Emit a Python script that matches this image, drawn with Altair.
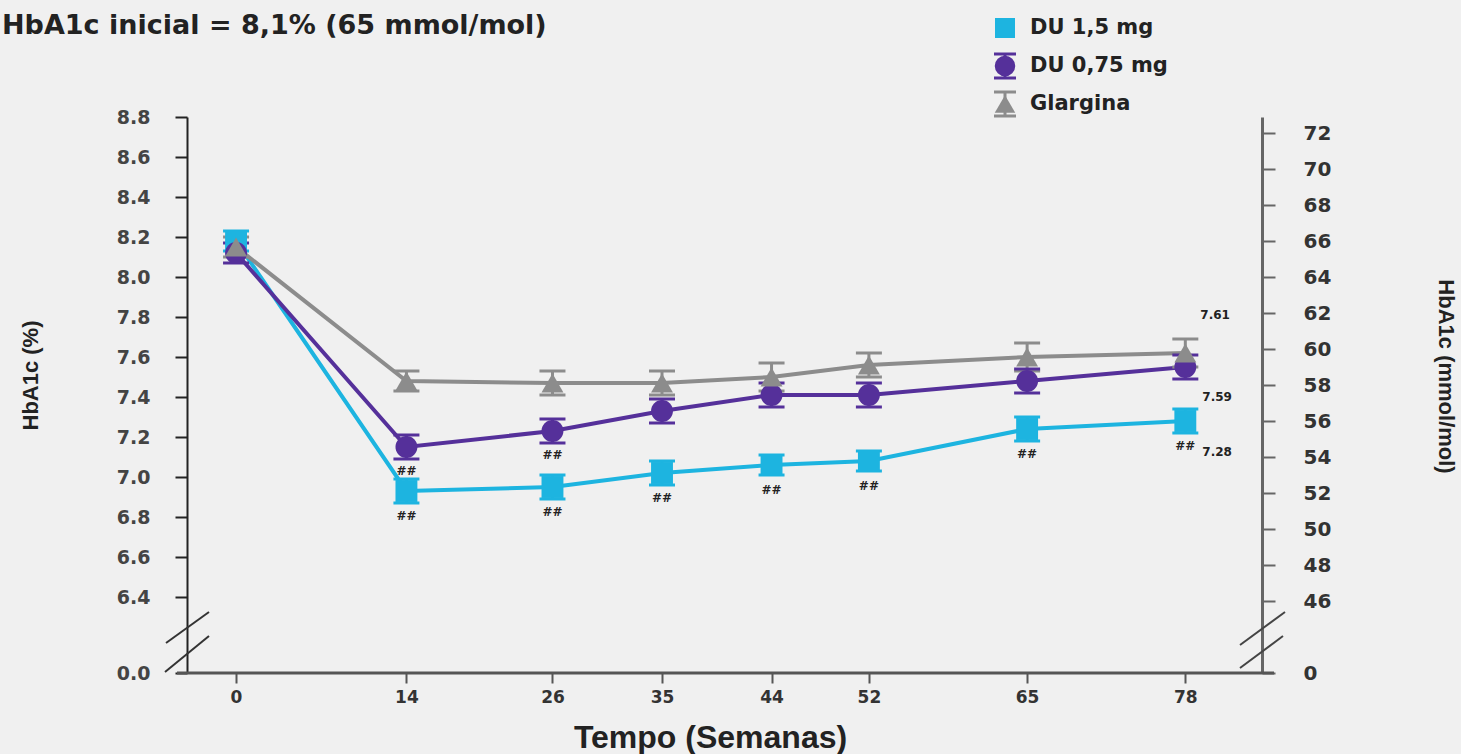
import altair as alt
import pandas as pd

# ---------------- data ----------------
weeks = [0, 14, 26, 35, 44, 52, 65, 78]
series_names = ["DU 1,5 mg", "DU 0,75 mg", "Glargina"]
du15 = [8.18, 6.93, 6.95, 7.02, 7.06, 7.08, 7.24, 7.28]
du075 = [8.12, 7.15, 7.23, 7.33, 7.41, 7.41, 7.48, 7.55]
glar = [8.15, 7.48, 7.47, 7.47, 7.50, 7.56, 7.60, 7.62]
err15 = [0.05, 0.06, 0.06, 0.06, 0.05, 0.05, 0.06, 0.06]
err075 = [0.05, 0.06, 0.06, 0.06, 0.06, 0.06, 0.06, 0.06]
errg = [0.05, 0.05, 0.06, 0.06, 0.07, 0.06, 0.07, 0.07]

left_ticks = [6.4, 6.6, 6.8, 7.0, 7.2, 7.4, 7.6, 7.8, 8.0, 8.2, 8.4, 8.6, 8.8]
right_ticks = [46, 48, 50, 52, 54, 56, 58, 60, 62, 64, 66, 68, 70, 72]
left_break = 6.02   # shown as 0.0 (broken axis)
right_break = 42    # shown as 0 (broken axis)

sig15_weeks = [14, 26, 35, 44, 52, 65, 78]
sig075_weeks = [14, 26]
end_label_g = "7.61"
end_label_d075 = "7.59"
end_label_d15 = "7.28"

title_text = "HbA1c inicial = 8,1% (65 mmol/mol)"
x_title = "Tempo (Semanas)"
yl_title = "HbA1c (%)"
yr_title = "HbA1c (mmol/mol)"

colors = ["#1db4e0", "#55309a", "#8c8c8c"]
shapes = ["square", "circle", "triangle-up"]

# ---------------- frames ----------------
rows = []
for name, vals, errs in zip(series_names, [du15, du075, glar], [err15, err075, errg]):
    for w, v, e in zip(weeks, vals, errs):
        rows.append({"series": name, "week": w, "value": v, "lo": v - e, "hi": v + e})
df = pd.DataFrame(rows)

sig15 = pd.DataFrame({"week": sig15_weeks,
                      "value": [du15[weeks.index(w)] for w in sig15_weeks]})
sig075 = pd.DataFrame({"week": sig075_weeks,
                       "value": [du075[weeks.index(w)] for w in sig075_weeks]})
endg = pd.DataFrame({"week": [78], "value": [glar[-1]], "label": [end_label_g]})
end075 = pd.DataFrame({"week": [78], "value": [du075[-1]], "label": [end_label_d075]})
end15 = pd.DataFrame({"week": [78], "value": [du15[-1]], "label": [end_label_d15]})
one = pd.DataFrame({"a": [0]})
rdf = pd.DataFrame({"mmol": [right_break] + right_ticks})

W, H = 1075, 556
FONT = "DejaVu Sans"
FONT2 = "Liberation Sans"

xscale = alt.Scale(domain=[-4.03, 84.3], nice=False, zero=False)
yscale = alt.Scale(domain=[left_break, 8.8], nice=False, zero=False)
cscale = alt.Scale(domain=series_names, range=colors)
sscale = alt.Scale(domain=series_names, range=shapes)

x_enc = alt.X("week:Q", scale=xscale, axis=alt.Axis(
    values=weeks, domain=False, grid=False, tickColor="#555", tickSize=10, tickWidth=2,
    labelFont=FONT, labelFontSize=17, labelFontWeight="bold", labelColor="#333",
    labelPadding=6, title=x_title, titleFont=FONT2, titleFontSize=32,
    titleFontWeight="bold", titleColor="#222", titleX=523, titleY=64,
    titleAlign="center", titleBaseline="middle"))

y_axis = alt.Axis(
    values=[left_break] + left_ticks,
    labelExpr="datum.value < 6.1 ? '0.0' : format(datum.value, '.1f')",
    domainColor="#222", domainWidth=2, tickColor="#222", tickWidth=2, tickSize=12,
    labelPadding=25, labelFont=FONT, labelFontSize=19, labelFontWeight="bold",
    labelColor="#444", grid=False, title=yl_title, titleFont=FONT2, titleFontSize=22,
    titleFontWeight="bold", titleColor="#222", titleAngle=270, titleX=-157, titleY=258,
    titleAlign="center", titleBaseline="middle")

base = alt.Chart(df)
col = alt.Color("series:N", scale=cscale, legend=None)

lines = base.mark_line(strokeWidth=4).encode(
    x=x_enc,
    y=alt.Y("value:Q", scale=yscale, axis=y_axis),
    color=col,
    detail="series:N",
)

errs = base.mark_rule(strokeWidth=3).encode(x="week:Q", y="lo:Q", y2="hi:Q", color=col)
cap_lo = base.mark_tick(orient="horizontal", size=26, thickness=3, opacity=1).encode(
    x="week:Q", y="lo:Q", color=col)
cap_hi = base.mark_tick(orient="horizontal", size=26, thickness=3, opacity=1).encode(
    x="week:Q", y="hi:Q", color=col)

points = base.mark_point(filled=True, opacity=1, size=480).encode(
    x="week:Q", y="value:Q", color=col,
    shape=alt.Shape("series:N", scale=sscale, legend=None),
)

txt = dict(font=FONT, fontSize=12, fontWeight="bold", color="#222")
sig_a = alt.Chart(sig15).mark_text(dy=25, **txt).encode(
    x="week:Q", y="value:Q", text=alt.value("##"))
sig_b = alt.Chart(sig075).mark_text(dy=24, **txt).encode(
    x="week:Q", y="value:Q", text=alt.value("##"))
lab_g = alt.Chart(endg).mark_text(align="left", dx=15, dy=-38, **txt).encode(
    x="week:Q", y="value:Q", text="label:N")
lab_075 = alt.Chart(end075).mark_text(align="left", dx=17, dy=30, **txt).encode(
    x="week:Q", y="value:Q", text="label:N")
lab_15 = alt.Chart(end15).mark_text(align="left", dx=17, dy=31, **txt).encode(
    x="week:Q", y="value:Q", text="label:N")

title = alt.Chart(one).mark_text(font=FONT, fontSize=27, fontWeight="bold", color="#222",
                                 align="left", baseline="alphabetic").encode(
    x=alt.value(-185), y=alt.value(-83), text=alt.value(title_text))


def seg(x1, y1, x2, y2, width=2, color="#333"):
    return alt.Chart(one).mark_rule(strokeWidth=width, color=color).encode(
        x=alt.value(x1), y=alt.value(y1), x2=alt.value(x2), y2=alt.value(y2))


xaxis_line = seg(-10, H, W + 12, H, width=3, color="#555")
breaks = [
    seg(-21, 526, 22, 495), seg(-22, 555, 22, 519),
    seg(1053, 528, 1098, 495, color="#444"), seg(1053, 551, 1096, 519, color="#444"),
]

# ---- custom legend (symbols with error caps like the reference) ----
leg_x, leg_y0, leg_dy = 818, -89, 38
leg_layers = []
for i, (name, c, s) in enumerate(zip(series_names, colors, shapes)):
    yy = leg_y0 + i * leg_dy
    if i > 0:
        leg_layers.append(seg(leg_x, yy - 12, leg_x, yy + 12, width=3, color=c))
        leg_layers.append(seg(leg_x - 11, yy - 12, leg_x + 11, yy - 12, width=3, color=c))
        leg_layers.append(seg(leg_x - 11, yy + 12, leg_x + 11, yy + 12, width=3, color=c))
    leg_layers.append(alt.Chart(one).mark_point(filled=True, opacity=1, size=400 if i == 0 else 420)
                      .encode(x=alt.value(leg_x), y=alt.value(yy), color=alt.value(c),
                              shape=alt.value(s)))
    leg_layers.append(alt.Chart(one).mark_text(font=FONT, fontSize=21, fontWeight="bold",
                                               color="#222", align="left", baseline="middle")
                      .encode(x=alt.value(leg_x + 25), y=alt.value(yy), text=alt.value(name)))

inner = alt.layer(lines, errs, cap_lo, cap_hi, points, sig_a, sig_b,
                  lab_g, lab_075, lab_15, title, xaxis_line, *breaks, *leg_layers)

right = alt.Chart(rdf).mark_point(opacity=0).encode(
    y=alt.Y("mmol:Q", scale=alt.Scale(domain=[right_break, 72.89], nice=False, zero=False),
            axis=alt.Axis(
                orient="right", values=[right_break] + right_ticks,
                labelExpr="datum.value < 43 ? '0' : format(datum.value, 'd')",
                domainColor="#666", domainWidth=3, tickColor="#666", tickWidth=2,
                tickSize=13, labelPadding=28, labelFont=FONT, labelFontSize=20,
                labelFontWeight="bold", labelColor="#333", grid=False,
                title=yr_title, titleFont=FONT2, titleFontSize=22, titleFontWeight="bold",
                titleColor="#222", titleAngle=90, titleX=183, titleY=259,
                titleAlign="center", titleBaseline="middle")))

chart = alt.layer(inner, right).resolve_scale(y="independent").properties(
    width=W, height=H,
    padding={"left": 187, "top": 117, "right": 199, "bottom": 81},
    autosize=alt.AutoSizeParams(type="none"),
    background="#f0f0f0",
).configure_view(stroke=None)

chart.save("out.html", embed_options={"renderer": "svg", "actions": False})
